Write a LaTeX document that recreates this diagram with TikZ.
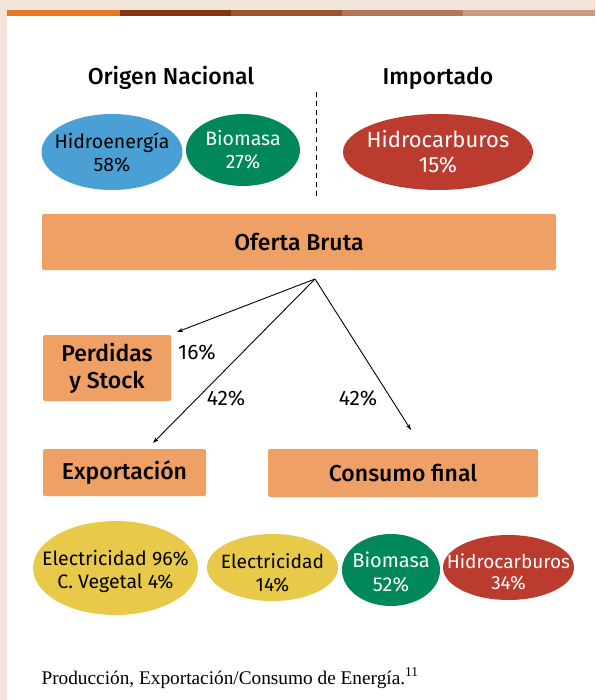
\documentclass[tikz,border=0pt]{standalone}
\usepackage{fontspec}
\setmainfont{Fira Sans}[BoldFont={Fira Sans Medium}]
\newfontfamily\capfont{Liberation Serif}
\usetikzlibrary{shapes.geometric,arrows.meta}
\definecolor{bgbeige}{HTML}{F3E5DC}
\definecolor{barA}{HTML}{E87722}
\definecolor{barB}{HTML}{85360F}
\definecolor{barC}{HTML}{A0522D}
\definecolor{barD}{HTML}{B4765A}
\definecolor{barE}{HTML}{CC9A80}
\definecolor{hidro}{HTML}{4A9FD5}
\definecolor{bioG}{HTML}{00875A}
\definecolor{redC}{HTML}{BC3B2F}
\definecolor{boxO}{HTML}{EFA064}
\definecolor{yelC}{HTML}{E8C94A}
\tikzset{
  oval/.style={ellipse, inner sep=0pt},
  ovaltext/.style={align=center, inner sep=0pt},
  orangebox/.style={fill=boxO, rounded corners=1.5pt, inner sep=0pt, align=center, font=\fontsize{23}{27}\selectfont\bfseries},
  flow/.style={-{Stealth[length=6pt,width=4pt]}, line width=0.9pt},
  pct/.style={font=\fontsize{21}{24}\selectfont},
  head/.style={font=\fontsize{23}{26}\selectfont\bfseries}
}
\begin{document}
\begin{tikzpicture}[x=1pt,y=-1pt]
\useasboundingbox (0,0) rectangle (595,700);
\fill[white] (0,0) rectangle (595,700);
\fill[bgbeige] (0,0) rectangle (595,10);
\fill[bgbeige] (0,0) rectangle (7,700);
\fill[barA] (7,10) rectangle (120,16);
\fill[barB] (120,10) rectangle (231,16);
\fill[barC] (231,10) rectangle (342,16);
\fill[barD] (342,10) rectangle (463,16);
\fill[barE] (463,10) rectangle (595,16);

\node[head] (orig) at (171,78) {Origen Nacional};
\node[head] (imp) at (438,78) {Importado};
\coordinate (dt) at (316,92);
\coordinate (db) at (316,198);
\draw[line width=0.8pt, dash pattern=on 5pt off 4pt] (dt) -- (db);

\node[oval, fill=hidro, minimum width=141pt, minimum height=76pt] (hid) at (112,152) {};
\node[ovaltext, font=\fontsize{19.5}{23}\selectfont] (hidt) at (hid.center) {Hidroenergía\\58\%};
\node[oval, fill=bioG, minimum width=114pt, minimum height=72pt] (bio) at (243,150) {};
\node[ovaltext, text=white, font=\fontsize{19.5}{23}\selectfont] (biot) at (bio.center) {Biomasa\\27\%};
\node[oval, fill=redC, minimum width=190pt, minimum height=76pt] (hc) at (438,152) {};
\node[ovaltext, text=white, font=\fontsize{22}{25}\selectfont] (hct) at (hc.center) {Hidrocarburos\\15\%};

\node[orangebox, minimum width=514pt, minimum height=56pt] (of) at (299,242) {Oferta Bruta};
\coordinate (src) at (315,279);

\node[orangebox, minimum width=128pt, minimum height=66pt] (per) at (107,368) {Perdidas\\y Stock};
\node[orangebox, minimum width=163pt, minimum height=47pt] (exp) at (124.5,472.5) {Exportación};
\node[orangebox, minimum width=270pt, minimum height=48pt] (con) at (403,473) {Consumo final};

\coordinate (tper) at (177,332);
\coordinate (texp) at (153,443);
\coordinate (tcon) at (411,430);
\draw[flow] (src) -- (tper);
\draw[flow] (src) -- (texp);
\draw[flow] (src) -- (tcon);
\node[pct] (p16) at (197,352) {16\%};
\node[pct] (p42a) at (226,398) {42\%};
\node[pct] (p42b) at (358,398) {42\%};

\node[oval, fill=yelC, minimum width=165pt, minimum height=94pt] (e96) at (115.5,568) {};
\node[ovaltext, font=\fontsize{19.5}{23}\selectfont] (e96t) at (115.5,571) {Electricidad 96\%\\C. Vegetal 4\%};
\node[oval, fill=yelC, minimum width=131pt, minimum height=67pt] (e14) at (272.5,567.5) {};
\node[ovaltext, font=\fontsize{19.2}{23}\selectfont] (e14t) at (272.5,573) {Electricidad\\14\%};
\node[oval, fill=bioG, minimum width=98pt, minimum height=72pt] (b52) at (391,570) {};
\node[ovaltext, text=white, font=\fontsize{20}{24}\selectfont] (b52t) at (391,572) {Biomasa\\52\%};
\node[oval, fill=redC, minimum width=131pt, minimum height=65pt] (h34) at (508.5,567.5) {};
\node[ovaltext, text=white, font=\fontsize{19}{21}\selectfont] (h34t) at (508.5,572) {Hidrocarburos\\34\%};

\node[anchor=west, font=\capfont\fontsize{19.3}{22}\selectfont] (cap) at (38,678) {Producción, Exportación/Consumo de Energía.\textsuperscript{11}};
\end{tikzpicture}
\end{document}
